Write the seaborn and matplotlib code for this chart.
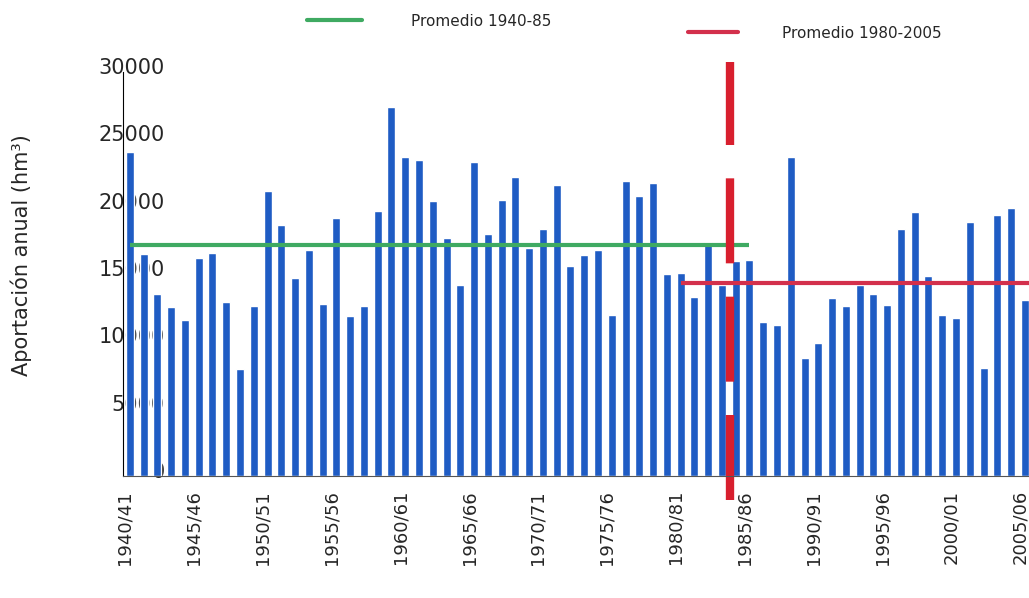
import numpy as np
import pandas as pd
import seaborn as sns
import matplotlib.pyplot as plt
import matplotlib.transforms as mtransforms
from matplotlib.lines import Line2D

# hydrological years 1940/41 .. 2005/06
seasons = [f"{y}/{(y + 1) % 100:02d}" for y in range(1940, 2006)]

# annual inflow (hm3)
inflow = [
    24060, 16470, 13500, 12530, 11620, 16180, 16575, 12930, 7960, 12650,
    21140, 18670, 14700, 16800, 12750, 19135, 11865, 12615, 19685, 27365,
    23715, 23485, 20450, 17700, 14170, 23310, 17940, 20460, 22220, 16930,
    18320, 21590, 15630, 16390, 16780, 11940, 21870, 20790, 21730, 14970,
    15040, 13320, 17400, 14160, 15950, 16010, 11420, 11240, 23720, 8740,
    9880, 13190, 12610, 14180, 13530, 12730, 18360, 19570, 14860, 11930,
    11700, 18880, 8010, 19380, 19890, 13060,
]

avg_1940_85 = 17150
avg_1980_2005 = 14350
tick_every = 5

df = pd.DataFrame({"season": seasons, "inflow": inflow})

sns.set_style("white")
plt.rcParams['font.family'] = ['DejaVu Sans']

fig = plt.figure(figsize=(10.29, 5.98), dpi=100)
ax = fig.add_axes([0.1195, 0.204, 0.8805, 0.6756])

sns.barplot(data=df, x="season", y="inflow", color="#1f5cc4", saturation=1,
            width=0.58, ax=ax)

# average lines
ax.plot([0, 45], [avg_1940_85, avg_1940_85], color="#3faa62", lw=3,
        solid_capstyle="butt")
ax.plot([40, 66], [avg_1980_2005, avg_1980_2005], color="#d3304c", lw=3,
        solid_capstyle="butt")

# break between the two periods
ax.axvline(43.6, ymin=-0.059, ymax=1.025, color="#d81f2e", lw=6,
           dashes=(10.2, 4), clip_on=False)

ax.set_xlim(-0.5, 65.3)
ax.set_ylim(0, 30000)
ax.set_yticks(range(0, 30001, 5000))
ax.tick_params(axis="y", length=0, labelsize=15, pad=-30)
shift_up = mtransforms.ScaledTranslation(0, 6 / 100, fig.dpi_scale_trans)
for t in ax.get_yticklabels():
    t.set_zorder(5)
    t.set_transform(t.get_transform() + shift_up)

pos = list(range(0, len(seasons), tick_every))
ax.set_xticks(pos)
ax.set_xticklabels([seasons[i] for i in pos], rotation=90, fontsize=13)
ax.set_xticks([p - 0.5 for p in pos], minor=True)
ax.tick_params(axis="x", which="major", length=0, pad=10)
ax.tick_params(axis="x", which="minor", length=7, width=1, color="#333333",
               direction="out")
shift_left = mtransforms.ScaledTranslation(-5 / 100, 0, fig.dpi_scale_trans)
for t in ax.get_xticklabels():
    t.set_transform(t.get_transform() + shift_left)

ax.set_xlabel("")
ax.set_ylabel("Aportación anual (hm³)", fontsize=15)
ax.yaxis.set_label_coords(-0.100, 0.547)

for s in ["top", "right"]:
    ax.spines[s].set_visible(False)
ax.spines["left"].set_color("black")
ax.spines["bottom"].set_color("#555555")

fig.legend([Line2D([], [], color="#3faa62", lw=3)], ["Promedio 1940-85"],
           loc="upper left", bbox_to_anchor=(0.285, 1.0), frameon=False,
           fontsize=11, handlelength=3.6, handletextpad=3.2)
fig.legend([Line2D([], [], color="#d3304c", lw=3)], ["Promedio 1980-2005"],
           loc="upper left", bbox_to_anchor=(0.655, 0.98), frameon=False,
           fontsize=11, handlelength=3.3, handletextpad=2.9)

plt.savefig("out.png", dpi=100)
